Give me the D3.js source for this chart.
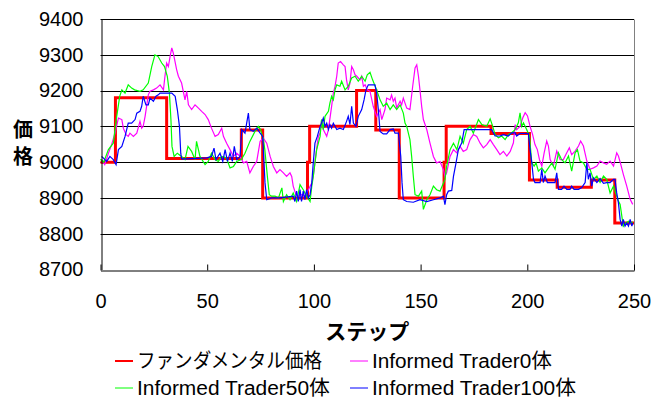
<!DOCTYPE html>
<html>
<head>
<meta charset="utf-8">
<script src="https://cdn.jsdelivr.net/npm/d3@7"></script>
<style>
  html, body { margin: 0; padding: 0; background: #fff; }
  svg { display: block; }
  text { font-family: "Liberation Sans", Arial, "Noto Sans CJK JP", sans-serif; fill: #000; }
</style>
</head>
<body>
<svg id="chart" width="653" height="399"></svg>
<script>
// Fundamental price: value holds from each step until the next one
const fundamentalSteps = [0, 7, 31, 66, 76, 97, 98, 120, 129, 140, 161, 162, 183, 201, 214, 230, 241, 250];
const fundamentalValues = [9000, 9180, 9010, 9090, 8900, 9000, 9100, 9200, 9090, 8900, 9000, 9100, 9080, 8950, 8930, 8950, 8830, 8830];

// Market price with no informed traders: [step, price]
const informed0 = [
  [0.5,9007],[2,8993],[3.7,9025],[5.2,9049],[6.8,9081],[8.4,9123],[10,9119],[10.7,9095],[12,9077],[13,9072],
  [13.8,9081],[15.4,9072],[17,9081],[18.5,9114],[19.3,9095],[20,9100],[20.9,9128],[22.4,9188],[23.2,9198],[24.8,9202],
  [26.3,9207],[27.9,9216],[29.5,9202],[30.2,9240],[31,9277],[31.8,9267],[32.6,9295],[33.4,9319],[34.1,9305],[35.7,9258],
  [36.5,9240],[38,9221],[39.6,9174],[40.4,9198],[41.2,9160],[42.7,9147],[44.3,9160],[45.9,9151],[47.4,9142],[49,9133],
  [50.5,9119],[52,9095],[53.7,9072],[55.2,9077],[56.8,9095],[57.6,9072],[59.1,9053],[60.7,9035],[62.3,9016],[63.8,9025],
  [65.4,9016],[67,8998],[68.5,9002],[70,8970],[71.6,8988],[73.2,9002],[74.8,9058],[76.3,9067],[77.9,9053],[79.5,9016],
  [81,8988],[82.6,8970],[84.1,8979],[85.7,8970],[87.2,8960],[88.8,8970],[89.6,8960],[90.3,8933],[91.6,8909],[92.7,8905],
  [94.2,8909],[95.8,8905],[97.4,8923],[99,8942],[99.7,8960],[101,9025],[102.1,9072],[102.9,9081],[103.6,9119],[104.4,9091],
  [106,9072],[106.8,9091],[108.3,9156],[109.1,9193],[109.9,9212],[110.7,9240],[111.4,9277],[112.5,9281],[113.8,9272],[114.6,9267],
  [115.3,9230],[116.1,9202],[116.9,9221],[117.7,9267],[118.5,9258],[119.3,9244],[120.1,9240],[121.6,9230],[122.4,9240],[123.2,9212],
  [124,9216],[125,9202],[126.3,9198],[127.8,9156],[129.4,9128],[131,9147],[131.8,9119],[133.3,9147],[134.1,9179],[135.7,9174],
  [136.4,9188],[137.2,9170],[138,9179],[138.8,9151],[140.4,9170],[141.1,9160],[141.9,9179],[143.5,9151],[145,9147],[146.3,9212],
  [147.4,9263],[148.2,9272],[149,9240],[149.7,9202],[150.5,9156],[151.3,9119],[152.9,9091],[154.4,9053],[156,9016],[157.5,8998],
  [159.1,9002],[160.7,8979],[161.4,8960],[162.2,8970],[163.8,9016],[165.4,9035],[166.9,9026],[168.5,9044],[170,9030],[171.6,9035],
  [173.2,9063],[174.7,9077],[176.3,9072],[177.9,9053],[179.4,9040],[181,9049],[182.6,9063],[184.1,9049],[185.7,9035],[187.2,9021],
  [188.8,9030],[190.4,9017],[192,9030],[193.5,9054],[194.3,9105],[195,9091],[196.6,9100],[197.9,9124],[199,9138],[200.1,9129],
  [201.3,9100],[202.5,9077],[203.6,9049],[204.7,9035],[205.7,9007],[206.8,8989],[207.9,9026],[209.1,9059],[209.9,9045],[210.7,9007],
  [212.2,8989],[213.8,9031],[215.4,9007],[216.9,9007],[218.5,9026],[219.7,9040],[220.8,9021],[222.4,9031],[224,9045],[225,9059],
  [226.3,9045],[227.9,9003],[229.4,8980],[231,8984],[232.6,8989],[234.1,9003],[235.7,8998],[237.2,8994],[238.8,9003],[240.4,8989],
  [241.9,9026],[242.7,9017],[243.8,8994],[245,8966],[246.6,8933],[248.2,8896],[249.4,8882]
];

// Market price with 50 informed traders: [step, price]
const informed50 = [
  [0,9008],[1.5,9000],[3.7,9035],[6,9053],[7.6,9128],[9,9184],[10,9202],[11.5,9193],[13,9216],[14.6,9207],
  [16,9202],[18.5,9198],[20,9202],[22.4,9221],[24,9267],[25.5,9300],[27,9295],[28.7,9277],[30,9267],[31.3,9240],
  [32.3,9193],[33,9119],[33.5,9044],[34.5,9016],[36,9025],[38,9016],[39.6,9007],[41,9044],[42.7,9030],[44.3,9007],
  [45,9058],[46.6,9016],[49,8993],[50.5,9002],[52,9025],[53.7,9007],[55.2,9002],[56.8,9016],[59,9012],[60.7,8984],
  [62.3,8988],[63.8,9002],[66,9007],[67.7,9025],[70,9058],[72.4,9086],[74,9100],[75,9091],[76.3,9063],[77,9035],
  [78.2,8960],[79.1,8909],[80.2,8905],[81.8,8905],[83.4,8900],[85,8928],[85.7,8890],[87.2,8909],[88.8,8895],[90.3,8914],
  [91.9,8890],[93.5,8937],[95,8923],[96.6,8905],[98.2,8890],[99,8932],[99.7,8960],[101.3,9035],[102.9,9072],[103.6,9119],
  [104.4,9091],[105.2,9128],[106.8,9142],[107.5,9165],[108.3,9184],[109.1,9174],[109.9,9202],[110.7,9216],[112.2,9212],[113,9226],
  [114.6,9202],[116.1,9212],[117.7,9235],[119.3,9240],[120.8,9226],[122.4,9240],[124,9226],[125,9244],[126.3,9251],[127.5,9230],
  [129.4,9202],[131,9174],[132.5,9156],[134.1,9165],[135.7,9147],[137.2,9160],[138.8,9147],[140.4,9160],[141.9,9137],[142.7,9109],
  [143.5,9100],[145,9063],[145.8,9016],[146.6,8960],[147.4,8909],[149,8905],[150.5,8919],[151.3,8868],[152.9,8895],[154.4,8909],
  [156,8933],[157.5,8923],[159.1,8919],[160.7,8942],[161.4,8951],[162.2,8988],[163.8,9035],[165.4,9053],[167,9035],[168.5,9072],
  [170,9053],[171.6,9091],[173.2,9100],[174.7,9081],[177.1,9119],[178.7,9105],[181,9100],[182.6,9121],[183.8,9100],[184.9,9077],
  [186.5,9068],[188,9073],[189.6,9063],[191.1,9077],[192.7,9082],[194.3,9091],[195.8,9110],[196.6,9138],[197.4,9100],[198.2,9110],
  [199.7,9091],[201,9073],[202.1,8998],[203.2,8989],[204.1,8998],[205.2,8975],[206.8,8984],[208.3,8970],[209.9,8984],[211.5,8998],
  [213,8980],[214.6,9026],[216.1,9007],[217.7,8998],[219.3,9017],[220.8,8975],[222.4,9026],[223.5,9035],[224.7,9003],[226.3,8998],
  [227.9,8980],[229.4,8980],[231,8952],[232.6,8961],[234.1,8943],[235.7,8961],[237.2,8952],[238.8,8914],[240.4,8933],[241.9,8905],
  [242.7,8891],[243.5,8882],[244.3,8849],[245,8821],[246.2,8830],[247.4,8835],[248.2,8830],[249.4,8833]
];

// Market price with 100 informed traders: [step, price]
const informed100 = [
  [0.5,9016],[1.3,9012],[2.9,9002],[4.4,9016],[6,9007],[7.3,8993],[8.4,9035],[10,9044],[11.5,9072],[13,9109],
  [14.6,9109],[16.2,9119],[17,9137],[18.5,9142],[19.3,9156],[20,9184],[21.3,9160],[22.4,9160],[23.2,9179],[24.8,9170],
  [26,9184],[27.1,9188],[27.9,9193],[31.8,9193],[33.4,9193],[35,9184],[36,9147],[37,9100],[37.6,9025],[38,9009],
  [40.4,9009],[49.8,9012],[52,9016],[53.2,9039],[54.1,9007],[56,9025],[57.3,9002],[58.4,9035],[59.5,9002],[60.7,9025],
  [61.8,9002],[62.7,9044],[63.8,9007],[65.4,9016],[66.2,9091],[67.7,9081],[69.3,9137],[70,9091],[71.6,9086],[73.2,9095],
  [74.8,9081],[76,9072],[77.1,8942],[77.9,8895],[80.2,8900],[84.1,8900],[90.3,8905],[91.1,8890],[91.9,8919],[92.7,8890],
  [93.5,8923],[94.2,8890],[95,8919],[95.8,8895],[96.6,8923],[97.4,8900],[98.2,8909],[99,8942],[99.7,8998],[100.5,9053],
  [101.6,9072],[102.9,9100],[103.6,9109],[104.4,9123],[105.2,9100],[106,9109],[106.8,9091],[107.5,9105],[108.3,9095],[109.1,9109],
  [110.7,9091],[112.2,9095],[113.8,9091],[115.3,9114],[116.1,9128],[116.9,9105],[117.7,9156],[118.5,9109],[119.7,9100],[120.8,9128],
  [122.4,9147],[123.5,9174],[124.4,9202],[125.5,9216],[128.6,9216],[129.4,9193],[130.2,9147],[131,9086],[132.5,9079],[134.1,9079],
  [135.7,9091],[137.2,9093],[138,9081],[139.6,9081],[140.7,9016],[141.3,8942],[141.9,8895],[143.5,8890],[146.6,8888],[149.7,8895],
  [152.9,8890],[156,8895],[159.1,8900],[160.7,8905],[161.4,8881],[162.2,8909],[163,8919],[164.6,8921],[165.4,8960],[166.6,8998],
  [167.7,9035],[169.3,9054],[170.4,9091],[173.2,9091],[183.3,9091],[184.9,9073],[187.2,9073],[188.8,9077],[191.1,9073],[192.7,9082],
  [194.3,9082],[195,9073],[196.6,9080],[200.5,9080],[201.3,9035],[202.1,8998],[202.9,8952],[203.6,8943],[206,8943],[206.8,8980],
  [207.5,8943],[208.3,8961],[209.4,8943],[213,8943],[213.8,8970],[214.6,8924],[216.1,8924],[217.2,8933],[218.5,8924],[220,8924],
  [220.8,8933],[221.9,8924],[224,8924],[225.5,8929],[227.1,8943],[227.9,8998],[228.6,8952],[229.4,8970],[230.2,8933],[231,8956],
  [232.6,8943],[234.1,8954],[235.7,8941],[237.2,8943],[238.8,8943],[240.4,8952],[241.1,8952],[241.9,8914],[242.7,8886],[243.5,8840],
  [244.3,8821],[245,8840],[245.8,8821],[246.6,8830],[247.4,8821],[248.2,8840],[249,8821],[249.4,8830]
];

const xTicks = [0, 50, 100, 150, 200, 250];
const yTicks = [8700, 8800, 8900, 9000, 9100, 9200, 9300, 9400];

const seriesNames = ["ファンダメンタル価格", "Informed Trader0体", "Informed Trader50体", "Informed Trader100体"];
const seriesColors = ["#ff0000", "#ff00ff", "#00ff00", "#0000ff"];
const seriesWidths = [3, 1.2, 1.2, 1.2];
const legendTextWidths = [185, 180, 193, 204];

const svg = d3.select("#chart");
svg.append("rect").attr("width", 653).attr("height", 399).attr("fill", "#fff");

const plot = { left: 100.5, right: 634, top: 19, bottom: 269.5 };
const x = d3.scaleLinear().domain([0, 250]).range([plot.left, plot.right]);
const y = d3.scaleLinear().domain([8700, 9400]).range([plot.bottom, plot.top]);

// horizontal gridlines
svg.append("g").selectAll("line")
  .data(yTicks.slice(1))
  .join("line")
  .attr("x1", plot.left).attr("x2", plot.right)
  .attr("y1", d => Math.round(y(d)) + 0.5).attr("y2", d => Math.round(y(d)) + 0.5)
  .attr("stroke", "#000").attr("stroke-width", 1);

// right edge of the plot area
svg.append("line")
  .attr("x1", plot.right + 0.5).attr("x2", plot.right + 0.5)
  .attr("y1", Math.round(y(9400)) + 0.5).attr("y2", Math.round(y(8700)) + 0.5)
  .attr("stroke", "#808080");

// series lines
const line = d3.line().x(d => x(d[0])).y(d => y(d[1]));
const stepLine = d3.line().x(d => x(d[0])).y(d => y(d[1])).curve(d3.curveStepAfter);
const fundamental = fundamentalSteps.map((s, i) => [s, fundamentalValues[i]]);
const allSeries = [fundamental, informed0, informed50, informed100];

const lines = svg.append("g");
allSeries.forEach((data, i) => {
  lines.append("path")
    .datum(data)
    .attr("fill", "none")
    .attr("stroke", seriesColors[i])
    .attr("stroke-width", seriesWidths[i])
    .attr("d", i === 0 ? stepLine : line);
});

// axes
const xAxis = svg.append("g")
  .attr("transform", `translate(0,${Math.round(y(8700)) + 0.5})`)
  .call(d3.axisBottom(x).tickValues(xTicks).tickFormat(d3.format("d"))
    .tickSizeInner(-6).tickSizeOuter(0).tickPadding(23));
const yAxis = svg.append("g")
  .attr("transform", `translate(${Math.round(plot.left) + 0.5},0)`)
  .call(d3.axisLeft(y).tickValues(yTicks).tickFormat(d3.format("d"))
    .tickSizeInner(0).tickSizeOuter(0).tickPadding(18));

[xAxis, yAxis].forEach(g => {
  g.select(".domain").attr("stroke", "#000").attr("stroke-width", 1);
  g.selectAll(".tick line").attr("stroke", "#000");
  g.selectAll(".tick text")
    .style("font-family", '"Liberation Sans", Arial, sans-serif')
    .style("font-size", "20px")
    .attr("fill", "#000");
});

// axis titles
svg.append("text")
  .attr("x", (plot.left + plot.right) / 2).attr("y", 330)
  .attr("text-anchor", "middle").attr("dominant-baseline", "central")
  .style("font-family", '"Noto Sans CJK JP", sans-serif')
  .style("font-size", "21px").style("font-weight", "bold")
  .text("ステップ");

const yTitle = svg.append("text")
  .attr("text-anchor", "middle")
  .style("font-family", '"Noto Sans CJK JP", sans-serif')
  .style("font-size", "20px").style("font-weight", "bold");
yTitle.append("tspan").attr("x", 23).attr("y", 128).attr("dominant-baseline", "central").text("価");
yTitle.append("tspan").attr("x", 23).attr("y", 155).attr("dominant-baseline", "central").text("格");

// legend, two columns by two rows
const legendCols = [115, 350];
const legendRows = [361, 388];
const legend = svg.append("g").selectAll("g")
  .data(seriesNames)
  .join("g")
  .attr("transform", (d, i) => `translate(${legendCols[i % 2]},${legendRows[Math.floor(i / 2)]})`);
legend.append("line")
  .attr("x1", 0).attr("x2", 18).attr("y1", 0).attr("y2", 0)
  .attr("stroke", (d, i) => seriesColors[i])
  .attr("stroke-width", (d, i) => i === 0 ? 2 : 1);
legend.append("text")
  .attr("x", 22).attr("y", 0)
  .attr("dominant-baseline", "central")
  .attr("textLength", (d, i) => legendTextWidths[i])
  .attr("lengthAdjust", "spacingAndGlyphs")
  .style("font-size", "20px")
  .text(d => d);
</script>
</body>
</html>
